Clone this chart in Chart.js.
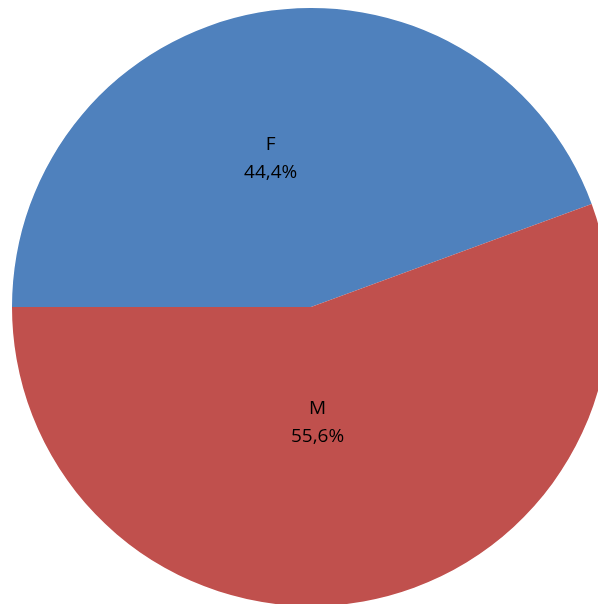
<!DOCTYPE html>
<html>
<head>
<meta charset="utf-8">
<script src="https://cdn.jsdelivr.net/npm/chart.js@4/dist/chart.umd.min.js"></script>
<style>
    html, body { margin: 0; padding: 0; background: #fff; overflow: hidden; width: 598px; height: 604px; }
    #wrap { position: absolute; left: 12px; top: 8px; width: 598px; height: 598px; }
</style>
</head>
<body>
<div id="wrap"><canvas id="pie"></canvas></div>
<script>
// Chart data
const labels = ['F', 'M'];
const values = [44.4, 55.6];
const colors = ['#4F81BD', '#C0504D'];
// where to put each label, as a fraction of the radius
const labelRadius = [0.503, 0.392];

// Draw "F / 44,4%" style labels inside each slice
const sliceLabels = {
    id: 'sliceLabels',
    afterDatasetsDraw(chart) {
        const ctx = chart.ctx;
        const meta = chart.getDatasetMeta(0);
        ctx.save();
        ctx.fillStyle = '#000';
        ctx.font = '19px "Open Sans", sans-serif';
        ctx.textAlign = 'center';
        ctx.textBaseline = 'middle';
        meta.data.forEach((arc, i) => {
            const mid = (arc.startAngle + arc.endAngle) / 2;
            const r = arc.outerRadius * labelRadius[i];
            const x = arc.x + Math.cos(mid) * r - 14;
            const y = arc.y + Math.sin(mid) * r;
            const pct = values[i].toFixed(1).replace('.', ',') + '%';
            ctx.fillText(labels[i], x, y - 14);
            ctx.fillText(pct, x, y + 14);
        });
        ctx.restore();
    }
};

new Chart(document.getElementById('pie'), {
    type: 'pie',
    data: {
        labels: labels,
        datasets: [{
            data: values,
            backgroundColor: colors,
            borderWidth: 0
        }]
    },
    options: {
        responsive: true,
        maintainAspectRatio: false,
        animation: false,
        rotation: -90,
        layout: { padding: 0 },
        plugins: {
            legend: { display: false },
            tooltip: { enabled: false }
        }
    },
    plugins: [sliceLabels]
});
</script>
</body>
</html>
